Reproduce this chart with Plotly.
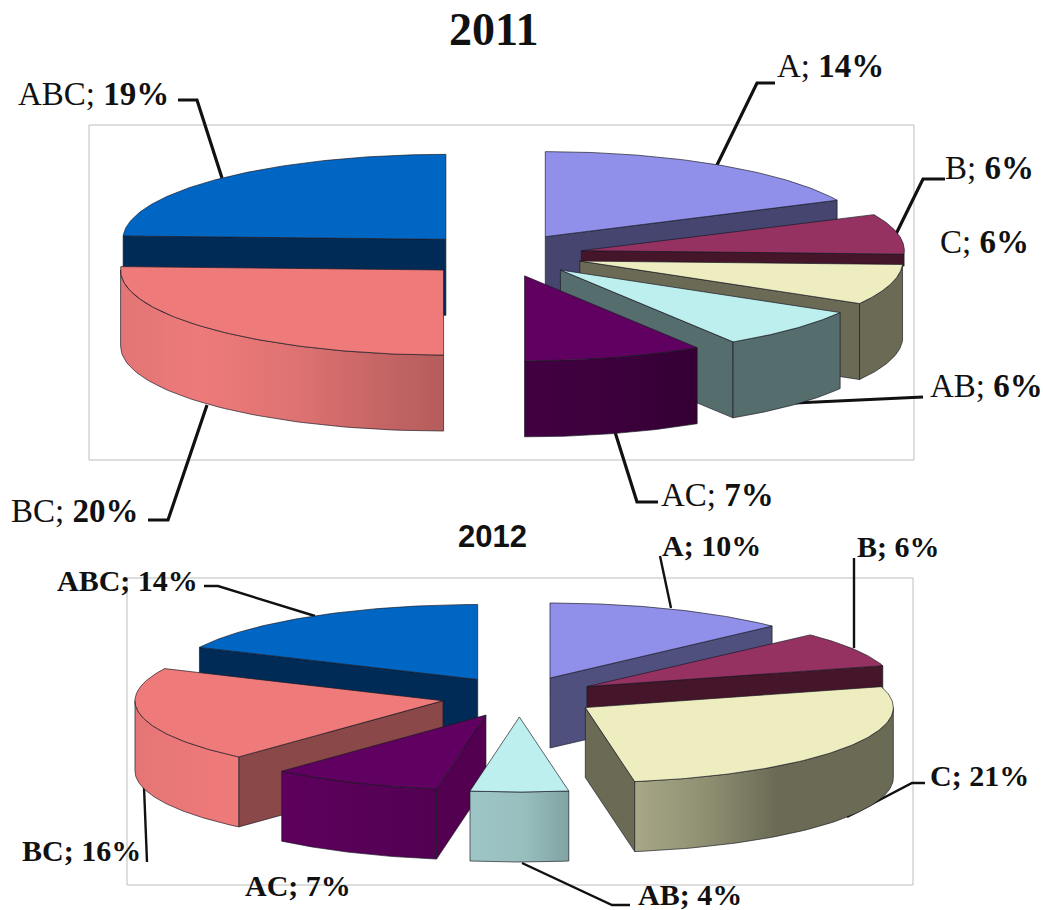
import numpy as np
import plotly.graph_objects as go

# Segment names and their shares for each year
categories = ["A", "B", "C", "AB", "AC", "BC", "ABC"]
values_2011 = [14, 6, 6, 6, 7, 20, 19]
values_2012 = [10, 6, 21, 4, 7, 16, 14]

# Colours per segment: top face, cut faces
TOP = {"A": "#9090EA", "B": "#953262", "C": "#EDEDC0", "AB": "#BEEFEF",
       "AC": "#600060", "BC": "#EF7A7A", "ABC": "#0066C4"}
CUT_2011 = {"A": "#45456F", "B": "#451529", "C": "#6B6B55", "AB": "#556D6D",
            "AC": "#3A003A", "BC": "#B85C5C", "ABC": "#002B57"}
CUT_2012 = {"A": "#50507F", "B": "#451529", "C": "#6B6B55", "AB": "#82A5A5",
            "AC": "#52004F", "BC": "#8B4848", "ABC": "#002B57"}

# Rim shading runs left to right across each slice
RIM_2011 = {
    "BC": [[0, "#E27575"], [0.25, "#EE7A7A"], [0.55, "#DE7272"], [0.8, "#C66565"], [1, "#B55C5C"]],
    "AC": [[0, "#420042"], [0.5, "#3C003C"], [1, "#340034"]],
}
RIM_2012 = {
    "C": [[0, "#A8A888"], [0.3, "#8C8C70"], [0.55, "#6B6B55"], [1, "#6B6B55"]],
    "AB": [[0, "#9FC6C6"], [0.55, "#98BEBE"], [1, "#80A3A3"]],
    "BC": [[0, "#E57575"], [0.5, "#EB7878"], [1, "#EF7A7A"]],
    "AC": [[0, "#5E005E"], [1, "#520052"]],
}

EDGE = dict(color="rgba(25,25,35,0.85)", width=0.8)
SERIF = "Liberation Serif"
SANS = "Liberation Sans"
MIN_RIM_SPAN = 5  # degrees; narrower rim slivers are hidden by the neighbouring slice

fig = go.Figure()


def add_face(x, y, color=None, gradient=None):
    style = dict(fillcolor=color) if gradient is None else dict(
        fillgradient=dict(type="horizontal", colorscale=gradient))
    fig.add_trace(go.Scatter(x=x, y=y, mode="lines", fill="toself", line=EDGE,
                             hoverinfo="skip", showlegend=False, **style))


def add_leader(x, y, width):
    fig.add_trace(go.Scatter(x=x, y=y, mode="lines",
                             line=dict(color="#111111", width=width, simplify=False),
                             hoverinfo="skip", showlegend=False))


def draw_pie(values, cx, cy, rx, ry, depth, pull_x, pull_y, cut, rim, short_cut=None):
    """Exploded pie seen from above: angles run clockwise from twelve o'clock."""
    short_cut = short_cut or {}
    total = sum(values)
    edges = np.cumsum([0] + values) / total * 360.0
    slices = [(name, a, b, np.radians((a + b) / 2))
              for name, a, b in zip(categories, edges[:-1], edges[1:])]
    # Paint from the back of the pie to the front
    for name, a, b, mid in sorted(slices, key=lambda s: -np.cos(s[3])):
        ox = cx + pull_x * np.sin(mid)
        oy = cy - pull_y * np.cos(mid)
        wall = short_cut.get(name, depth)

        def rim_xy(t):
            t = np.radians(t)
            return ox + rx * np.sin(t), oy - ry * np.cos(t)

        # Cut faces, visible when they look toward the viewer
        if a > 180:
            ex, ey = rim_xy(a)
            add_face([ox, ex, ex, ox, ox], [oy, ey, ey + wall, oy + wall, oy], cut[name])
        if b < 180:
            ex, ey = rim_xy(b)
            add_face([ox, ex, ex, ox, ox], [oy, ey, ey + wall, oy + wall, oy], cut[name])
        # Outer rim, only the part on the near half of the ellipse
        lo, hi = max(a, 90), min(b, 270)
        if hi - lo > MIN_RIM_SPAN:
            t = np.linspace(lo, hi, 60)
            ax, ay = rim_xy(t)
            add_face(np.r_[ax, ax[::-1], ax[0]], np.r_[ay, ay[::-1] + depth, ay[0]],
                     cut[name], rim.get(name))
        # Top face
        t = np.linspace(a, b, 90)
        ax, ay = rim_xy(t)
        add_face(np.r_[ox, ax, ox], np.r_[oy, ay, oy], TOP[name])


# Leader lines sit underneath the slices
LEADERS_2011 = [
    ([717, 757, 775], [165, 83, 83]),
    ([896, 923, 945], [234, 179, 179]),
    ([795, 923], [403, 397]),
    ([615, 637, 658], [432, 502, 502]),
    ([207, 168, 148], [405, 520, 520]),
    ([222, 197, 178], [178, 100, 100]),
]
LEADERS_2012 = [
    ([315, 218, 204], [616, 586, 586]),
    ([671, 660], [608, 556]),
    ([854, 854], [648, 558]),
    ([847, 912, 925], [817, 783, 783]),
    ([522, 612, 630], [863, 905, 905]),
    ([144, 147], [787, 862]),
]
for x, y in LEADERS_2011:
    add_leader(x, y, 3.2)
for x, y in LEADERS_2012:
    add_leader(x, y, 2.4)

# The B wall in 2011 only shows as a thin band above the C slice
draw_pie(values_2011, 502, 255, 323, 85, 76, 81, 21.7, CUT_2011, RIM_2011, short_cut={"B": 12})
draw_pie(values_2012, 519.4, 696.7, 308, 75, 70, 78, 20.3, CUT_2012, RIM_2012)

# Left edge and vertical centre of each slice label
LABEL_POS_2011 = {"A": (775, 66), "B": (943, 168), "C": (938, 242), "AB": (928, 386),
                  "AC": (659, 495), "BC": (9, 511), "ABC": (16, 94)}
LABEL_POS_2012 = {"A": (660, 545), "B": (855, 546), "C": (928, 775), "AB": (636, 894),
                  "AC": (243, 885), "BC": (20, 850), "ABC": (55, 580)}

annotations = []
for name, v in zip(categories, values_2011):
    x, y = LABEL_POS_2011[name]
    annotations.append(dict(x=x, y=y, text=f"{name}; <b>{v}%</b>", xanchor="left", yanchor="middle",
                            showarrow=False, font=dict(family=SERIF, size=33, color="#111111")))
for name, v in zip(categories, values_2012):
    x, y = LABEL_POS_2012[name]
    annotations.append(dict(x=x, y=y, text=f"<b>{name}; {v}%</b>", xanchor="left", yanchor="middle",
                            showarrow=False, font=dict(family=SERIF, size=30, color="#111111")))
annotations.append(dict(x=493, y=29, text="<b>2011</b>", showarrow=False,
                        font=dict(family=SERIF, size=46, color="#111111")))
annotations.append(dict(x=492, y=536, text="<b>2012</b>", showarrow=False,
                        font=dict(family=SANS, size=31, color="#111111")))

frame = dict(type="rect", layer="below", line=dict(color="#BDBDBD", width=1), fillcolor="rgba(0,0,0,0)")
fig.update_layout(
    width=1043, height=910, autosize=False,
    margin=dict(l=0, r=0, t=0, b=0),
    paper_bgcolor="white", plot_bgcolor="white",
    xaxis=dict(range=[0, 1043], visible=False, fixedrange=True),
    yaxis=dict(range=[910, 0], visible=False, fixedrange=True),
    shapes=[dict(x0=89, x1=914, y0=125, y1=460, **frame),
            dict(x0=127, x1=913, y0=578, y1=885, **frame)],
    annotations=annotations,
)
fig.write_html("out.html", config={"displayModeBar": False})
